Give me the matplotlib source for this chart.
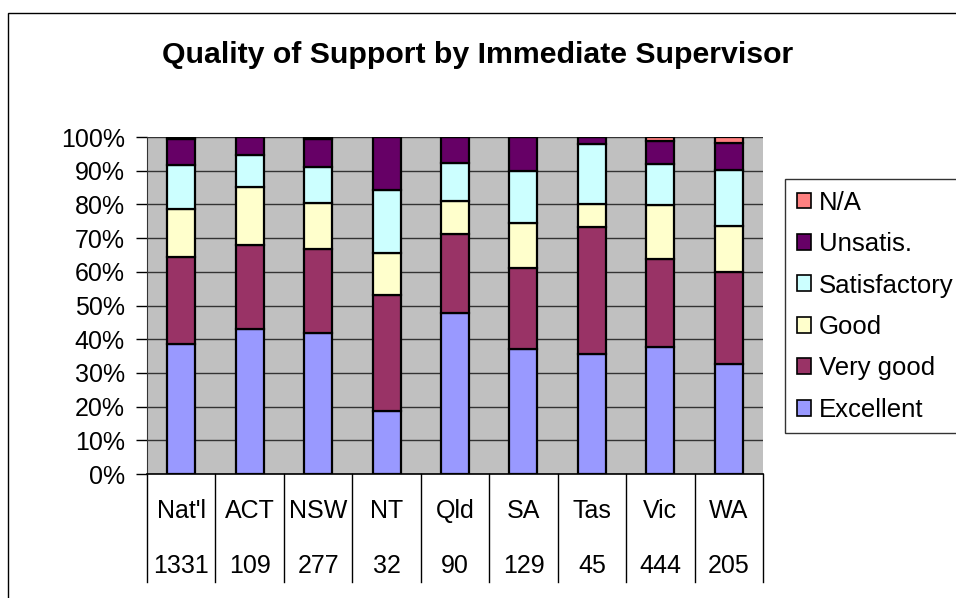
import matplotlib
matplotlib.use("Agg")
import matplotlib.pyplot as plt
import numpy as np
from matplotlib.patches import Rectangle, Patch
from matplotlib.lines import Line2D

plt.rcParams['font.family'] = ['Liberation Sans', 'DejaVu Sans']

categories = ["Nat'l", "ACT", "NSW", "NT", "Qld", "SA", "Tas", "Vic", "WA"]
counts = ["1331", "109", "277", "32", "90", "129", "45", "444", "205"]
series_names = ["Excellent", "Very good", "Good", "Satisfactory", "Unsatis.", "N/A"]
excellent    = [38.5, 43.1, 41.9, 18.8, 47.8, 37.2, 35.6, 37.8, 32.6]
very_good    = [25.9, 24.9, 25.0, 34.4, 23.3, 23.9, 37.8, 26.1, 27.2]
good         = [14.3, 17.2, 13.5, 12.5, 10.0, 13.4, 6.7, 15.8, 13.7]
satisfactory = [12.9, 9.5, 10.7, 18.8, 11.1, 15.5, 17.8, 12.4, 16.6]
unsatis      = [7.8, 5.3, 8.3, 15.6, 7.8, 10.1, 2.2, 6.8, 8.2]
na           = [0.6, 0.0, 0.6, 0.0, 0.0, 0.0, 0.0, 1.1, 1.7]
colors = ["#9999FF", "#993366", "#FFFFCC", "#CCFFFF", "#660066", "#FF8080"]

W, H = 956, 598
fig = plt.figure(figsize=(W / 100, H / 100), dpi=100)
fig.patch.set_facecolor("white")

# outer chart border (cropped at right and bottom)
fig.patches.append(Rectangle((8 / W, -0.1), 1.2, 1 - 13 / H + 0.1, transform=fig.transFigure,
                             fill=False, edgecolor="black", linewidth=1.0))

L, R, T, B = 147, 763, 137, 474
ax = fig.add_axes([L / W, 1 - B / H, (R - L) / W, (B - T) / H])
ax.set_facecolor("#C0C0C0")

data = np.array([excellent, very_good, good, satisfactory, unsatis, na])
data = data / data.sum(axis=0) * 100.0
x = np.arange(len(categories))
bottom = np.zeros(len(categories))
for vals, col, name in zip(data, colors, series_names):
    ax.bar(x, vals, width=0.41, bottom=bottom, color=col, edgecolor="black",
           linewidth=1.6, label=name, zorder=3)
    bottom += vals

ax.set_xlim(-0.5, len(categories) - 0.5)
ax.set_ylim(0, 100)
ax.set_yticks(np.arange(0, 101, 10))
ax.set_yticklabels([f"{v}%" for v in range(0, 101, 10)])
ax.yaxis.grid(True, color="#333333", linewidth=1.0, zorder=1)
ax.set_axisbelow(True)
ax.tick_params(axis="y", direction="out", length=8, width=1, pad=8, labelsize=18, colors="black")
ax.set_xticks([])
for s in ["top", "right"]:
    ax.spines[s].set_visible(False)
ax.spines["left"].set_color("#333333")
ax.spines["bottom"].set_color("black")
ax.spines["bottom"].set_linewidth(1.2)

# category table below axis
trans = ax.get_xaxis_transform()
ext = (582 - B) / (B - T)
for b in np.arange(-0.5, len(categories), 1.0):
    ax.add_line(Line2D([b, b], [0, -ext], transform=trans, color="black",
                       linewidth=1.0, clip_on=False))
for i, (c, n) in enumerate(zip(categories, counts)):
    ax.text(i, -(511 - B) / (B - T), c, transform=trans, ha="center", va="center", fontsize=18)
    ax.text(i, -(566 - B) / (B - T), n, transform=trans, ha="center", va="center", fontsize=18)

fig.text(478 / W, 1 - 55 / H, "Quality of Support by Immediate Supervisor",
         ha="center", va="center", fontsize=21.8, fontweight="bold")

handles = [Patch(facecolor=c, edgecolor="black", linewidth=1.2) for c in colors][::-1]
leg = fig.legend(handles, series_names[::-1], loc="upper left",
                 bbox_to_anchor=(785 / W, 1 - 179 / H), fontsize=18.5,
                 frameon=True, fancybox=False, edgecolor="black",
                 handlelength=0.58, handleheight=0.58, handletextpad=0.3,
                 labelspacing=0.68, borderpad=0.45, borderaxespad=0)
leg.get_frame().set_linewidth(1.0)

fig.savefig("out.png", dpi=100)
